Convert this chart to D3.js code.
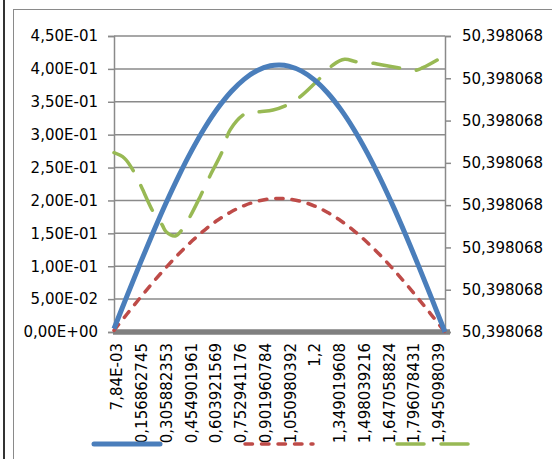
<!DOCTYPE html>
<html><head><meta charset="utf-8">
<script src="https://cdn.jsdelivr.net/npm/d3@7"></script>
<style>html,body{margin:0;padding:0;background:#fff;overflow:hidden}</style>
</head><body>
<svg id="c" width="552" height="459"></svg>
<script>
// ---- data ----
const xTickLabels = ["7,84E-03","0,156862745","0,305882353","0,454901961","0,603921569","0,752941176","0,901960784","1,050980392","1,2","1,349019608","1,498039216","1,647058824","1,796078431","1,945098039"];
const leftTickValues = [0,0.05,0.10,0.15,0.20,0.25,0.30,0.35,0.40,0.45];
const leftTickLabels = ["0,00E+00","5,00E-02","1,00E-01","1,50E-01","2,00E-01","2,50E-01","3,00E-01","3,50E-01","4,00E-01","4,50E-01"];
const rightTickValues = [50.398068,50.39806802,50.39806804,50.39806806,50.39806808,50.3980681,50.39806812,50.39806814];

const sampleX = [0.007843,0.086275,0.164706,0.243137,0.321569,0.4,0.478431,0.556863,0.635294,0.713725,0.792157,0.870588,0.949020,1.003922,1.058824,1.137255,1.215686,1.294118,1.372549,1.450980,1.529412,1.607843,1.686275,1.764706,1.843137,1.921569,2.0];
const blueValues = [0.0050,0.0549,0.1039,0.1513,0.1965,0.2386,0.2772,0.3116,0.3412,0.3656,0.3845,0.3976,0.4047,0.4060,0.4043,0.3966,0.3829,0.3634,0.3384,0.3083,0.2735,0.2345,0.1921,0.1467,0.0990,0.0499,0.0];
const redValues  = [0.0025,0.0274,0.0519,0.0757,0.0982,0.1193,0.1386,0.1558,0.1706,0.1828,0.1923,0.1988,0.2024,0.2030,0.2021,0.1983,0.1915,0.1817,0.1692,0.1542,0.1368,0.1173,0.0960,0.0733,0.0495,0.0250,0.0];

const greenX = [0.007843,0.070588,0.133333,0.172549,0.243137,0.298039,0.321569,0.376471,0.415686,0.462745,0.525490,0.588235,0.658824,0.705882,0.8,0.886275,0.964706,1.050980,1.129412,1.247059,1.325490,1.396078,1.466667,1.568627,1.607843,1.717647,1.811765,1.866667,1.952941];
const greenValues = [50.3980680848,50.3980680822,50.398068075,50.3980680687,50.3980680569,50.3980680506,50.3980680474,50.3980680454,50.3980680482,50.3980680542,50.3980680639,50.3980680743,50.3980680853,50.3980680955,50.3980681034,50.3980681042,50.398068105,50.3980681074,50.3980681113,50.39806812,50.3980681263,50.398068129,50.3980681278,50.3980681271,50.3980681265,50.398068125,50.3980681236,50.398068125,50.3980681286];

// ---- layout ----
const svg = d3.select("#c");
const L = 114, R = 445, T = 36, B = 332;
const FONT = "DejaVu Sans, sans-serif";
const GRAY = "#8a8a8a";
const BLUE = "#4A7EBB", RED = "#BE4B48", GREEN = "#98B954";

// outer frame
svg.append("line").attr("x1",4).attr("x2",4).attr("y1",0).attr("y2",459).attr("stroke","#333").attr("stroke-width",2);
svg.append("rect").attr("x",13.5).attr("y",9.5).attr("width",600).attr("height",500).attr("fill","none").attr("stroke","#8a8a8a").attr("stroke-width",1);

const x = d3.scaleLinear().domain(d3.extent(sampleX)).range([L, R]);
const yL = d3.scaleLinear().domain([0,0.45]).range([B, T]);
const yR = d3.scaleLinear().domain([rightTickValues[0], rightTickValues[rightTickValues.length-1]]).range([B, T]);

// gridlines
svg.append("g").selectAll("line").data(leftTickValues).join("line")
  .attr("x1",L).attr("x2",R).attr("y1",d=>yL(d)).attr("y2",d=>yL(d))
  .attr("stroke",GRAY).attr("stroke-width",1.5);

// left axis
const gL = svg.append("g").attr("transform",`translate(${L},0)`)
  .call(d3.axisLeft(yL).tickValues(leftTickValues).tickSize(6).tickPadding(10)
    .tickFormat((d,i)=>leftTickLabels[i]));
gL.select(".domain").attr("stroke",GRAY).attr("stroke-width",1.5);
gL.selectAll(".tick line").attr("stroke",GRAY).attr("stroke-width",1.5);
gL.selectAll("text").attr("font-family",FONT).attr("font-size",15).attr("fill","#000");

// right axis
const fmtR = d => d3.format(".6f")(d).replace(".", ",");
const gR = svg.append("g").attr("transform",`translate(${R},0)`)
  .call(d3.axisRight(yR).tickValues(rightTickValues).tickSize(6).tickPadding(11).tickFormat(fmtR));
gR.select(".domain").attr("stroke",GRAY).attr("stroke-width",1.5);
gR.selectAll(".tick line").attr("stroke",GRAY).attr("stroke-width",1.5);
gR.selectAll("text").attr("font-family",FONT).attr("font-size",15).attr("fill","#000");

// bottom axis (thick bar)
svg.append("line").attr("x1",L-1).attr("x2",R+5).attr("y1",B).attr("y2",B)
  .attr("stroke","#808080").attr("stroke-width",5.5);

// x labels
const xTickValues = xTickLabels.map(s => +s.replace(",", "."));
svg.append("g").selectAll("text").data(xTickValues).join("text")
  .attr("transform", d => `translate(${x(d)+3},343) rotate(-90)`)
  .attr("text-anchor","end").attr("dy","0.35em")
  .attr("font-family",FONT).attr("font-size",15).attr("fill","#000")
  .text((d,i)=>xTickLabels[i]);

// series
const lineL = d3.line().x(d=>x(d[0])).y(d=>yL(d[1])).curve(d3.curveCatmullRom.alpha(0.5));
const lineR = d3.line().x(d=>x(d[0])).y(d=>yR(d[1])).curve(d3.curveCatmullRom.alpha(0.5));

svg.append("path").datum(sampleX.map((v,i)=>[v,redValues[i]])).attr("d",lineL)
  .attr("fill","none").attr("stroke",RED).attr("stroke-width",3.5)
  .attr("stroke-dasharray","7.5,9").attr("stroke-linecap","round");

svg.append("path").datum(greenX.map((v,i)=>[v,greenValues[i]])).attr("d",lineR)
  .attr("fill","none").attr("stroke",GREEN).attr("stroke-width",3.5)
  .attr("stroke-dasharray","27,17").attr("stroke-linecap","round");

svg.append("path").datum(sampleX.map((v,i)=>[v,blueValues[i]])).attr("d",lineL)
  .attr("fill","none").attr("stroke",BLUE).attr("stroke-width",5);

// legend (no text labels)
const legend = [
  {color:BLUE, width:5, dash:null, cap:"round", x0:94, x1:160},
  {color:RED, width:3.5, dash:"7.5,9", cap:"round", x0:245, x1:313},
  {color:GREEN, width:3.5, dash:"27,17", cap:"round", x0:397, x1:470}
];
svg.append("g").selectAll("line").data(legend).join("line")
  .attr("x1",d=>d.x0).attr("x2",d=>d.x1).attr("y1",444).attr("y2",444)
  .attr("stroke",d=>d.color).attr("stroke-width",d=>d.width)
  .attr("stroke-dasharray",d=>d.dash).attr("stroke-linecap",d=>d.cap);
</script>
</body></html>
